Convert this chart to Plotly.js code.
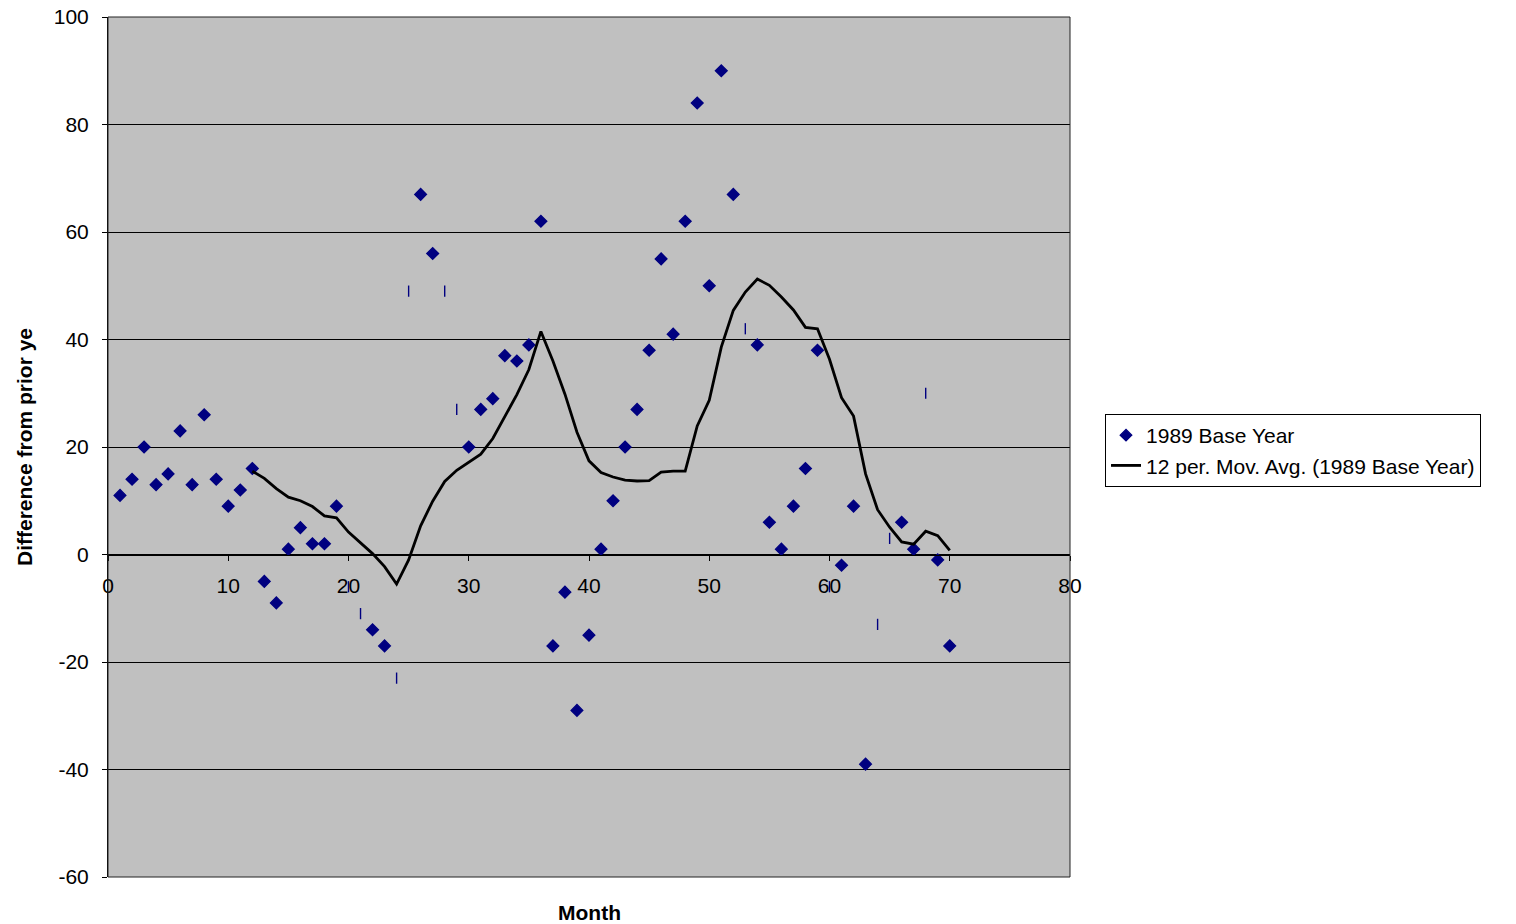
<!DOCTYPE html>
<html>
<head>
<meta charset="utf-8">
<script src="https://cdn.plot.ly/plotly-3.0.1.min.js"></script>
<style>html,body{margin:0;padding:0;background:#fff;}#chart{width:1516px;height:924px;}</style>
</head>
<body>
<div id="chart"></div>
<script>
// Month numbers
const months = [1,2,3,4,5,6,7,8,9,10,11,12,13,14,15,16,17,18,19,20,21,22,23,24,25,26,27,28,29,30,31,32,33,34,35,36,37,38,39,40,41,42,43,44,45,46,47,48,49,50,51,52,53,54,55,56,57,58,59,60,61,62,63,64,65,66,67,68,69,70];
// 1989 Base Year: difference from prior year
const baseYear = [11,14,20,13,15,23,13,26,14,9,12,16,-5,-9,1,5,2,2,9,-6,-11,-14,-17,-23,49,67,56,49,27,20,27,29,37,36,39,62,-17,-7,-29,-15,1,10,20,27,38,55,41,62,84,50,90,67,42,39,6,1,9,16,38,-6,-2,9,-39,-13,3,6,1,30,-1,-17];
// months whose point is drawn as a thin tick instead of a diamond
const tickStyleMonths = [20,21,24,25,28,29,53,60,64,65,68];
// 12 period moving average, months 12..70
const maMonths = [12,13,14,15,16,17,18,19,20,21,22,23,24,25,26,27,28,29,30,31,32,33,34,35,36,37,38,39,40,41,42,43,44,45,46,47,48,49,50,51,52,53,54,55,56,57,58,59,60,61,62,63,64,65,66,67,68,69,70];
const movAvg = [15.5,14.17,12.25,10.67,10.0,8.92,7.17,6.83,4.17,2.08,0.17,-2.25,-5.5,-1.0,5.33,9.92,13.58,15.67,17.17,18.67,21.58,25.58,29.75,34.42,41.5,36.0,29.83,22.75,17.42,15.25,14.42,13.83,13.67,13.75,15.33,15.5,15.5,23.92,28.67,38.58,45.42,48.83,51.25,50.08,47.92,45.5,42.25,42.0,36.33,29.17,25.75,15.0,8.33,5.08,2.33,1.92,4.33,3.5,0.75];
const xTicks = [0,10,20,30,40,50,60,70,80];
const yTicks = [-60,-40,-20,0,20,40,60,80,100];

const symbols = months.map(m => tickStyleMonths.includes(m) ? 'line-ns-open' : 'diamond');
const sizes = months.map(m => tickStyleMonths.includes(m) ? 8 : 9);

const font = 'Liberation Sans, Arial, sans-serif';

const traces = [
  {
    x: months, y: baseYear, type: 'scatter', mode: 'markers',
    name: '1989 Base Year',
    marker: {symbol: symbols, size: sizes, opacity: 1, color: '#000080', line: {color: '#000080', width: 1.4}}
  },
  {
    x: maMonths, y: movAvg, type: 'scatter', mode: 'lines',
    name: '12 per. Mov. Avg. (1989 Base Year)',
    line: {color: '#000000', width: 2.8}
  }
];

const layout = {
  width: 1516, height: 924,
  margin: {l: 108, r: 446, t: 17, b: 47},
  paper_bgcolor: '#ffffff',
  plot_bgcolor: '#c0c0c0',
  font: {family: font, size: 20, color: '#000'},
  showlegend: true,
  legend: {
    x: 1.0364, y: 0.5384, xanchor: 'left', yanchor: 'top',
    bgcolor: '#ffffff', bordercolor: '#000000', borderwidth: 1,
    font: {family: font, size: 21, color: '#000'},
    tracegroupgap: 0
  },
  xaxis: {
    range: [0, 80], tickvals: xTicks, ticktext: xTicks.map(String),
    anchor: 'free', position: 0.375,
    showline: true, linecolor: '#000', linewidth: 1,
    ticks: 'outside', ticklen: 5, tickcolor: '#000',
    ticklabelstandoff: 7,
    showgrid: false, zeroline: false,
    tickfont: {family: font, size: 21, color: '#000'}
  },
  yaxis: {
    range: [-60, 100], tickvals: yTicks, ticktext: yTicks.map(String),
    showline: true, linecolor: '#000', linewidth: 1,
    ticks: 'outside', ticklen: 5, tickcolor: '#000',
    ticklabelstandoff: 9,
    showgrid: true, gridcolor: '#000', gridwidth: 1,
    zeroline: false,
    tickfont: {family: font, size: 21, color: '#000'},
    title: {text: 'Difference from prior ye', font: {family: font, size: 21, color: '#000', weight: 'bold'}, standoff: 15}
  },
  shapes: [
    {type: 'rect', xref: 'paper', yref: 'paper', x0: 0, x1: 1, y0: 0, y1: 1, line: {color: '#222', width: 1}, layer: 'above'}
  ],
  annotations: [
    {text: '<b>Month</b>', xref: 'paper', yref: 'paper', x: 0.5, y: 0, yshift: -35, xanchor: 'center', yanchor: 'middle', showarrow: false, font: {family: font, size: 21, color: '#000'}}
  ]
};

Plotly.newPlot('chart', traces, layout, {displayModeBar: false, staticPlot: true});
</script>
</body>
</html>
